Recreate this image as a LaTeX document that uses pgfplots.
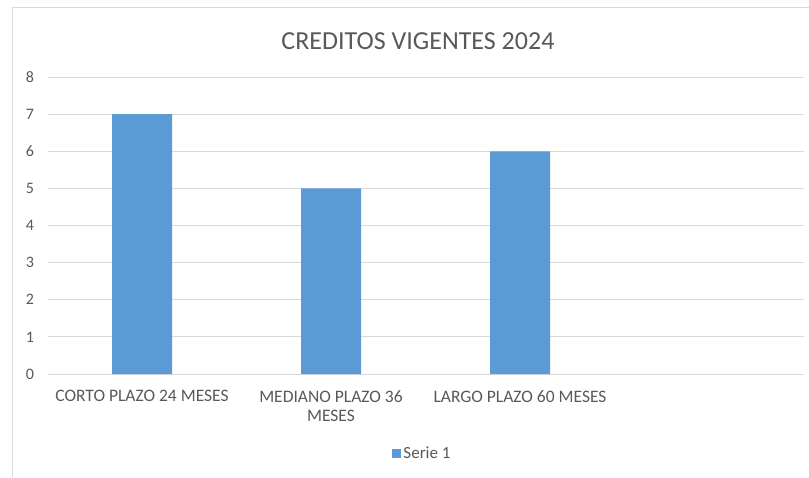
\documentclass[border=0pt]{standalone}
\usepackage{pgfplots}
\pgfplotsset{compat=1.18}
\usepackage{fontspec}
\setmainfont{Carlito}
\definecolor{barblue}{HTML}{5B9BD5}
\definecolor{txt}{HTML}{595959}
\definecolor{gridgray}{HTML}{D9D9D9}
\begin{document}
\begin{tikzpicture}[x=1pt,y=1pt]
\useasboundingbox (0,0) rectangle (809,477);
\draw[gridgray, line width=1pt] (12,0) -- (12,469) -- (809,469);
\node[txt, font=\fontsize{26}{30}\selectfont] at (418,436) {CREDITOS VIGENTES 2024};
\begin{axis}[
  at={(47.5pt,103pt)}, anchor=south west,
  scale only axis, width=756pt, height=297pt,
  xmin=-0.5, xmax=3.5, ymin=0, ymax=8,
  xtick={0,1,2}, xticklabels={CORTO PLAZO 24 MESES, {MEDIANO PLAZO 36\\MESES}, LARGO PLAZO 60 MESES},
  xticklabel style={align=center, font=\fontsize{17.5}{19.5}\selectfont, text=txt, anchor=north, yshift=-13pt},
  ytick={0,...,8},
  yticklabel style={font=\fontsize{16}{18}\selectfont, text=txt, xshift=-10pt},
  /pgf/number format/assume math mode=true,
  major tick length=0pt,
  ymajorgrids, xmajorgrids=false, grid style={gridgray, line width=1pt},
  axis line style={draw=none},
  axis x line*=bottom, axis y line*=left,
  ybar, bar width=60pt,
  legend style={at={(0.5,0)}, anchor=center, xshift=-3pt, yshift=-79pt, draw=none, fill=none, font=\fontsize{17}{19}\selectfont, text=txt, legend columns=1},
  legend image code/.code={\fill[barblue] (0pt,-4.5pt) rectangle (9pt,4.5pt);},
  clip=false,
]
\addplot[fill=barblue, draw=none] coordinates {(0,7) (1,5) (2,6)};
\addlegendentry{Serie 1}
\end{axis}
\end{tikzpicture}
\end{document}
